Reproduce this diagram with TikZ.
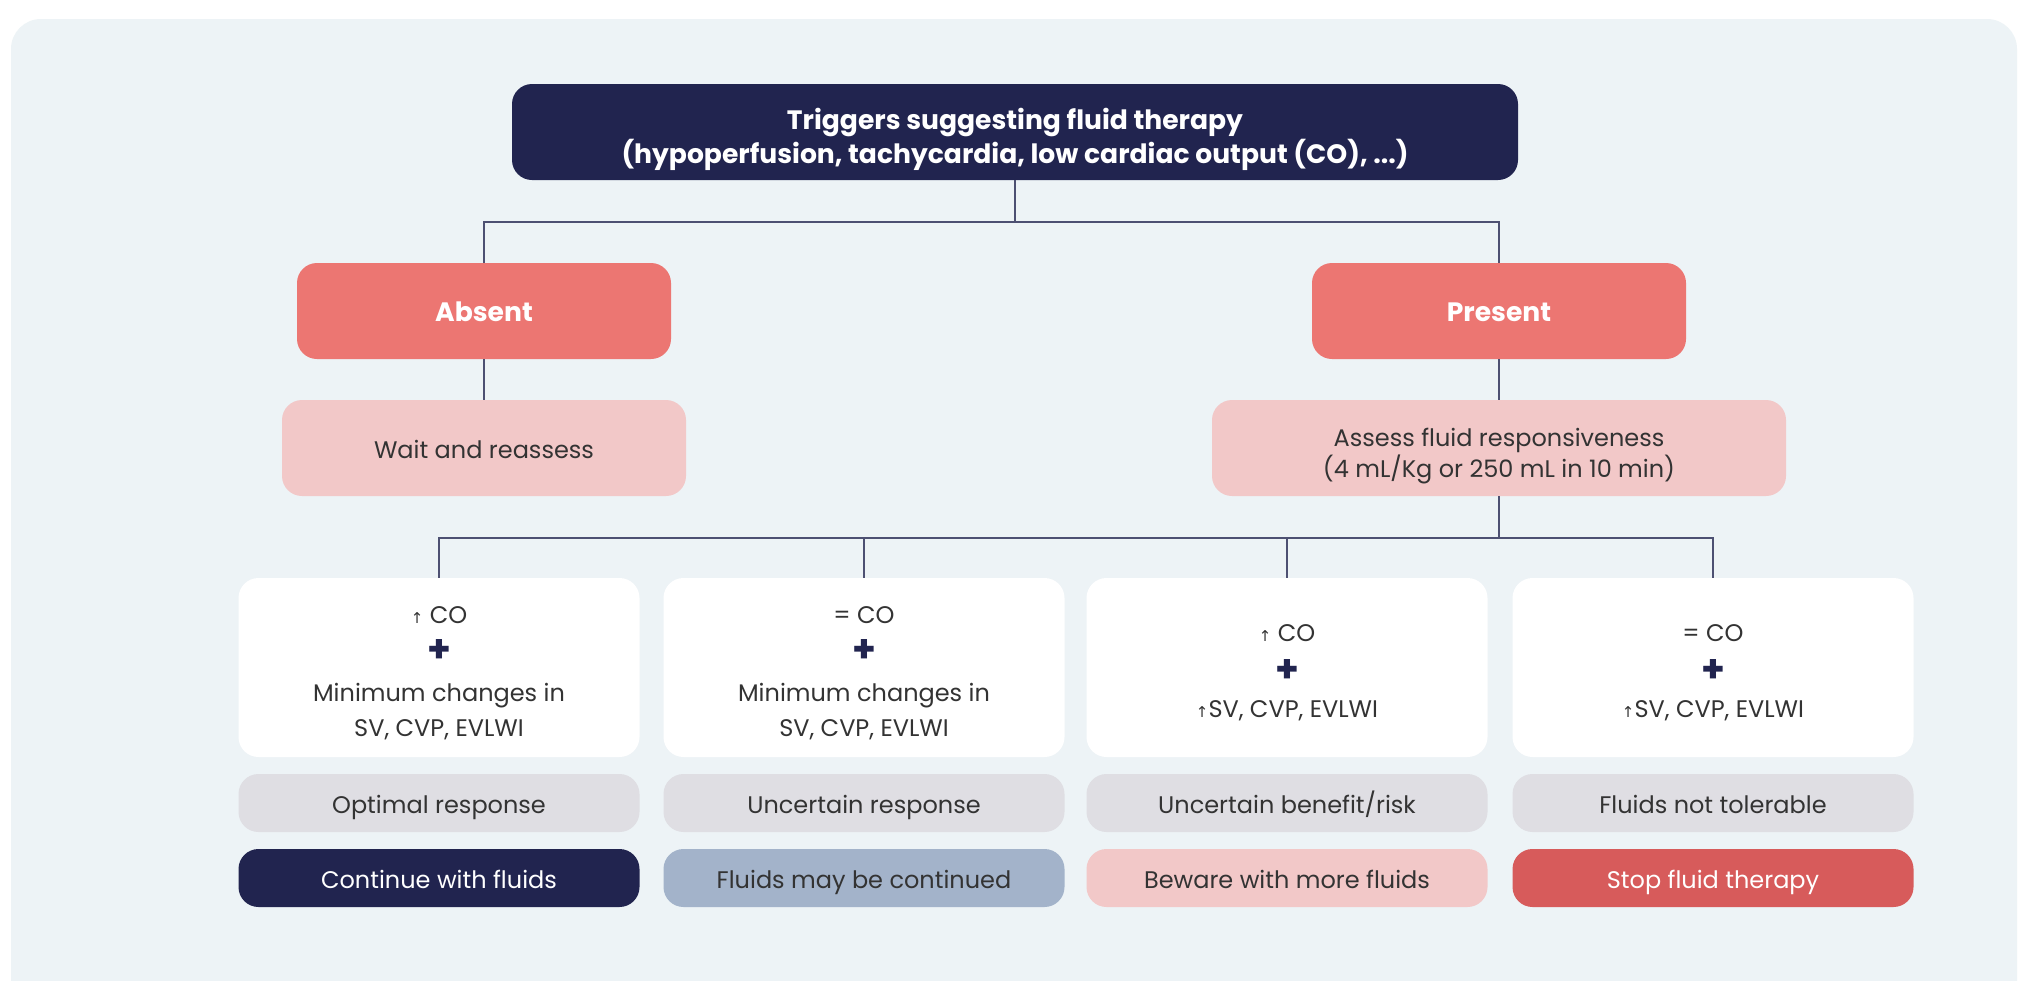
\documentclass[tikz,border=0pt]{standalone}
\usepackage{fontspec}
\setmainfont{Poppins}
\newfontfamily\arrowfont{DejaVu Sans}
\usepackage{xcolor}
\usetikzlibrary{calc}
\definecolor{panelbg}{HTML}{EDF3F6}
\definecolor{navy}{HTML}{21244F}
\definecolor{salmon}{HTML}{EC7672}
\definecolor{blush}{HTML}{F2C8C8}
\definecolor{mist}{HTML}{DFDEE3}
\definecolor{steel}{HTML}{A3B3CA}
\definecolor{brick}{HTML}{D75B5B}
\definecolor{ink}{HTML}{333333}
\newcommand{\up}{{\arrowfont\fontsize{7.5}{8}\selectfont ↑}}
\newcommand{\plusmark}{{\color{navy}\fontsize{19}{19}\selectfont\bfseries +}}
\newcommand{\padtop}[1]{\rule{0pt}{#1}}

\tikzset{
  box/.style={rounded corners=10pt, inner sep=0pt, text=ink,
    font=\fontsize{12}{17.5}\selectfont},
  oneline/.style={text height=10.5pt, text depth=0pt},
  headbox/.style={box, align=center, fill=navy, text=white, minimum width=503pt, minimum height=48pt,
    font=\fontsize{13.3}{15.5}\selectfont\bfseries},
  branch/.style={box, oneline, fill=salmon, text=white, minimum height=48pt,
    font=\fontsize{13.3}{14}\selectfont\bfseries},
  stepbox/.style={box, fill=blush, minimum height=48pt},
  condbox/.style={box, align=center, fill=white, minimum width=200.5pt, minimum height=89.5pt},
  tagbox/.style={box, oneline, minimum width=200.5pt, minimum height=29pt},
  link/.style={draw=navy!80, line width=0.6pt}
}

\begin{document}
\begin{tikzpicture}[x=0.5pt, y=-0.5pt]
  \clip (0,0) rectangle (2032,980);
  \fill[white] (0,0) rectangle (2032,980);
  \fill[panelbg, rounded corners=15pt] (11,19) rectangle (2017,1040);

  % top
  \node[headbox] (trig) at (1015,132) {\padtop{18pt}Triggers suggesting fluid therapy\\(hypoperfusion, tachycardia, low cardiac output (CO), ...)};

  % branches
  \node[branch, minimum width=187pt] (absent) at (484,311) {Absent};
  \node[branch, minimum width=187pt] (present) at (1499,311) {Present};
  \node[stepbox, oneline, minimum width=202pt] (wait) at (484,448) {Wait and reassess};
  \node[stepbox, align=center, minimum width=287pt, font=\fontsize{12}{14.3}\selectfont] (assess) at (1499,448) {\padtop{17pt}Assess fluid responsiveness\\(4 mL/Kg or 250 mL in 10 min)};

  % conditions
  \node[condbox] (c1) at (439,667.5) {\padtop{14pt}\up\ CO\\[2.2pt]\plusmark\\[1.8pt]Minimum changes in\\SV, CVP, EVLWI};
  \node[condbox] (c2) at (864,667.5) {\padtop{14pt}= CO\\[2.2pt]\plusmark\\[1.8pt]Minimum changes in\\SV, CVP, EVLWI};
  \node[condbox] (c3) at (1287,667.5) {\padtop{14pt}\up\ CO\\[2.8pt]\plusmark\\[0.4pt]\up SV, CVP, EVLWI};
  \node[condbox] (c4) at (1713,667.5) {\padtop{14pt}= CO\\[2.8pt]\plusmark\\[0.4pt]\up SV, CVP, EVLWI};

  % responses
  \node[tagbox, fill=mist] (r1) at (439,803) {Optimal response};
  \node[tagbox, fill=mist] (r2) at (864,803) {Uncertain response};
  \node[tagbox, fill=mist] (r3) at (1287,803) {Uncertain benefit/risk};
  \node[tagbox, fill=mist] (r4) at (1713,803) {Fluids not tolerable};

  % actions
  \node[tagbox, fill=navy, text=white] (a1) at (439,878) {Continue with fluids};
  \node[tagbox, fill=steel] (a2) at (864,878) {Fluids may be continued};
  \node[tagbox, fill=blush] (a3) at (1287,878) {Beware with more fluids};
  \node[tagbox, fill=brick, text=white] (a4) at (1713,878) {Stop fluid therapy};

  % connectors
  \coordinate (split1) at (1015,222);
  \coordinate (split2) at (1499,538);
  \draw[link] (trig.south) -- (split1);
  \draw[link] (split1) -| (absent.north);
  \draw[link] (split1) -| (present.north);
  \draw[link] (absent.south) -- (wait.north);
  \draw[link] (present.south) -- (assess.north);
  \draw[link] (assess.south) -- (split2);
  \foreach \c in {c1,c2,c3,c4}
    \draw[link] (split2) -| (\c.north);
\end{tikzpicture}
\end{document}
